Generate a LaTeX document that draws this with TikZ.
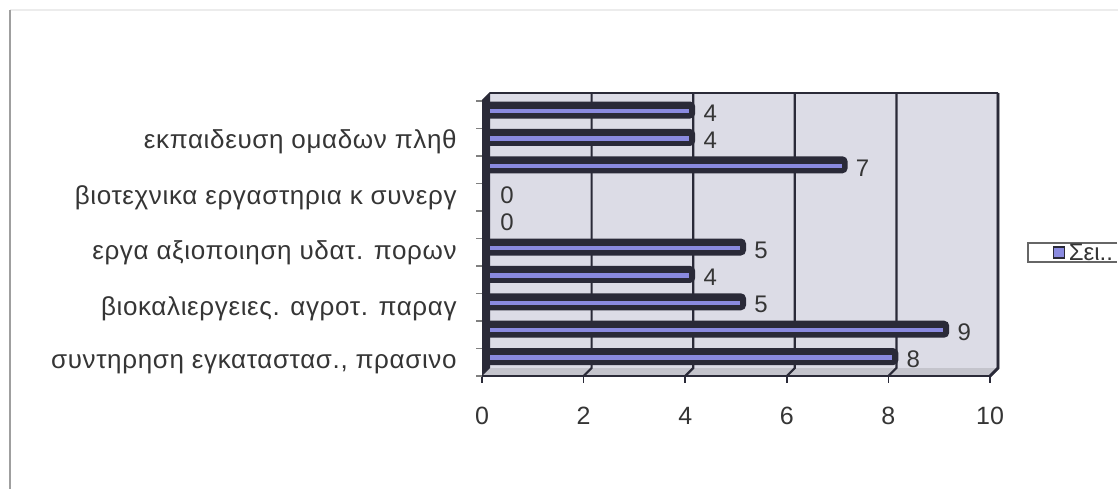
\documentclass[tikz,border=0pt]{standalone}
\usepackage{fontspec}
\setmainfont{Liberation Sans}
\newfontfamily\labfont[LetterSpace=2.5]{Liberation Sans}
\usetikzlibrary{positioning}

\definecolor{wall}{HTML}{DCDCE6}
\definecolor{floorgray}{HTML}{C4C4CC}
\definecolor{bardark}{HTML}{2A2A38}
\definecolor{barblue}{HTML}{8A8AE0}
\definecolor{txt}{HTML}{353535}

\begin{document}
\begin{tikzpicture}[x=0.5pt,y=-0.5pt,
    catlabel/.style={font={\labfont\fontsize{13}{15}\selectfont}, text=txt, anchor=east, inner sep=0pt},
    vallabel/.style={font={\fontsize{12}{14}\selectfont}, text=txt, inner sep=0pt},
    ticklabel/.style={font={\fontsize{12.5}{14}\selectfont}, text=txt, inner sep=0pt},
    gridline/.style={draw=bardark, line width=1.1pt}]
    \useasboundingbox[fill=white] (0,0) rectangle (1118,489);
    % outer frame
    \draw[gray!15, line width=0.8pt] (10,10) -- (1118,10);
    \draw[gray!75, line width=1.2pt] (10,10) -- (10,489);
    % walls and floor
    \fill[wall] (490,93) rectangle (998,368);
    \fill[floorgray] (482,376) -- (490,368) -- (998,368) -- (990,376) -- cycle;
    \fill[bardark] (482,101) -- (490,93) -- (490,368) -- (482,376) -- cycle;
    \draw[bardark, line width=0.8pt] (482,101) -- (490,93) -- (998,93);
    \foreach \v in {2,4,...,10}
        \draw[gridline] ({490+50.8*\v},93) -- ({490+50.8*\v},368) -- ({482+50.8*\v},376);
    \draw[bardark, line width=1.4pt] (998,93) -- (998,368) -- (990,376);
    \draw[bardark, line width=1pt] (482,376) -- (990,376);
    \foreach \v in {0,2,...,10}
        \draw[bardark, line width=0.8pt] ({482+50.8*\v},376) -- ({482+50.8*\v},383);
    \foreach \k in {0,...,10}
        \draw[gray, line width=0.6pt] (476,{101+27.5*\k}) -- (482,{101+27.5*\k});
    % bars, top to bottom
    \foreach \v [count=\i from 0] in {4,4,7,0,0,5,4,5,9,8} {
        \pgfmathsetmacro\yc{110+27.4*\i}
        \pgfmathsetmacro\xe{490+50.8*\v}
        \ifnum\v>0
            \fill[bardark, rounded corners=2.5pt] (484,\yc-8.5) rectangle (\xe+2,\yc+8.5);
            \draw[barblue, line width=2.2pt] (490,\yc+1) -- (\xe-4,\yc+1);
        \fi
        \node[vallabel] (val\i) at (\xe+17,\yc+3) {\v};
    }
    % category labels
    \foreach \t [count=\j from 0] in {{εκπαιδευση ομαδων πληθ},{βιοτεχνικα εργαστηρια κ συνεργ},{εργα αξιοποιηση υδατ. πορων},{βιοκαλιεργειες. αγροτ. παραγ},{συντηρηση εγκαταστασ., πρασινο}}
        \node[catlabel] (cat\j) at (457,{142+55.5*\j}) {\t};
    % axis numbers
    \foreach \v in {0,2,...,10}
        \node[ticklabel] (tick\v) at ({482+50.8*\v},416) {\v};
    % legend
    \draw[gray!80!black, line width=0.9pt] (1117,243) -- (1028,243) -- (1028,262) -- (1117,262);
    \node[draw=bardark, fill=barblue, line width=0.9pt, minimum size=5.5pt, inner sep=0pt] (mark) at (1059,252.5) {};
    \node[right=1.5pt of mark, font={\fontsize{12}{14}\selectfont}, text=txt, inner sep=0pt] (legtext) {Σει..};
\end{tikzpicture}
\end{document}
